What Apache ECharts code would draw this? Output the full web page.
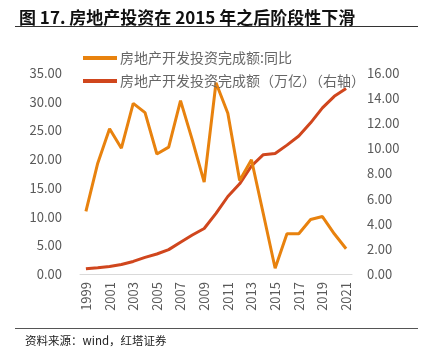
<!DOCTYPE html>
<html>
<head>
<meta charset="utf-8">
<script src="https://cdn.jsdelivr.net/npm/echarts@6/dist/echarts.min.js"></script>
<style>
  html, body { margin: 0; padding: 0; background: #fff; }
  #main { width: 435px; height: 352px; }
</style>
</head>
<body>
<div id="main"></div>
<script>
// 年份
var years = ['1999','2000','2001','2002','2003','2004','2005','2006','2007','2008','2009','2010',
             '2011','2012','2013','2014','2015','2016','2017','2018','2019','2020','2021'];
// 房地产开发投资完成额:同比 (左轴, %)
var yoy = [10.9, 19.3, 25.3, 21.9, 29.7, 28.1, 20.9, 22.1, 30.2, 23.3, 16.0, 33.3,
           28.0, 16.3, 19.9, 10.5, 1.0, 7.0, 7.0, 9.5, 10.0, 7.0, 4.4];
// 房地产开发投资完成额 (万亿, 右轴)
var amount = [0.41, 0.50, 0.60, 0.76, 1.0, 1.32, 1.59, 1.94, 2.53, 3.10, 3.62, 4.83,
              6.17, 7.18, 8.60, 9.50, 9.60, 10.26, 10.98, 12.03, 13.22, 14.14, 14.76];

var names = ['房地产开发投资完成额:同比', '房地产开发投资完成额（万亿）（右轴）'];
var cjk = '"Noto Sans CJK SC", sans-serif';

var myChart = echarts.init(document.getElementById('main'));
var option = {
    animation: false,
    textStyle: { fontFamily: cjk },
    title: {
        text: '图 17. 房地产投资在 2015 年之后阶段性下滑',
        left: 14,
        top: 4,
        textStyle: { fontSize: 17, fontWeight: 'bold', color: '#111', fontFamily: cjk }
    },
    graphic: [
        { type: 'line', shape: { x1: 15, y1: 26.5, x2: 418, y2: 26.5 }, style: { stroke: '#333', lineWidth: 1 } },
        { type: 'line', shape: { x1: 15, y1: 328.5, x2: 418, y2: 328.5 }, style: { stroke: '#555', lineWidth: 1 } },
        { type: 'text', left: 25, top: 335, style: { text: '资料来源：wind，红塔证券', fontSize: 11.5, fill: '#222', fontFamily: cjk } }
    ],
    legend: {
        orient: 'vertical',
        left: 78,
        top: 46,
        itemGap: 9,
        itemWidth: 34,
        itemHeight: 4,
        icon: 'rect',
        textStyle: { fontSize: 14, color: '#666', fontFamily: cjk, padding: [0, 0, 0, -2] },
        data: names
    },
    grid: { left: 80, right: 83, top: 73, bottom: 78 },
    xAxis: {
        type: 'category',
        data: years,
        boundaryGap: true,
        axisLine: { lineStyle: { color: '#d9d9d9' } },
        axisTick: { interval: 1, length: 4, lineStyle: { color: '#d9d9d9' } },
        axisLabel: { interval: 1, rotate: 90, fontSize: 13, color: '#595959', margin: 8 }
    },
    yAxis: [
        {
            type: 'value', min: 0, max: 35, interval: 5,
            splitLine: { show: false },
            axisLine: { show: false },
            axisLabel: { fontSize: 13, color: '#595959', margin: 18, formatter: function (v) { return v.toFixed(2); } }
        },
        {
            type: 'value', min: 0, max: 16, interval: 2,
            splitLine: { show: false },
            axisLine: { show: false },
            axisLabel: { fontSize: 13, color: '#595959', margin: 15, formatter: function (v) { return v.toFixed(2); } }
        }
    ],
    series: [
        {
            name: names[0],
            type: 'line',
            data: yoy,
            yAxisIndex: 0,
            symbol: 'none',
            lineStyle: { color: '#E8820E', width: 3 },
            itemStyle: { color: '#E8820E' }
        },
        {
            name: names[1],
            type: 'line',
            data: amount,
            yAxisIndex: 1,
            symbol: 'none',
            z: 1,
            lineStyle: { color: '#D0461D', width: 3 },
            itemStyle: { color: '#D0461D' }
        }
    ]
};
myChart.setOption(option);
</script>
</body>
</html>
